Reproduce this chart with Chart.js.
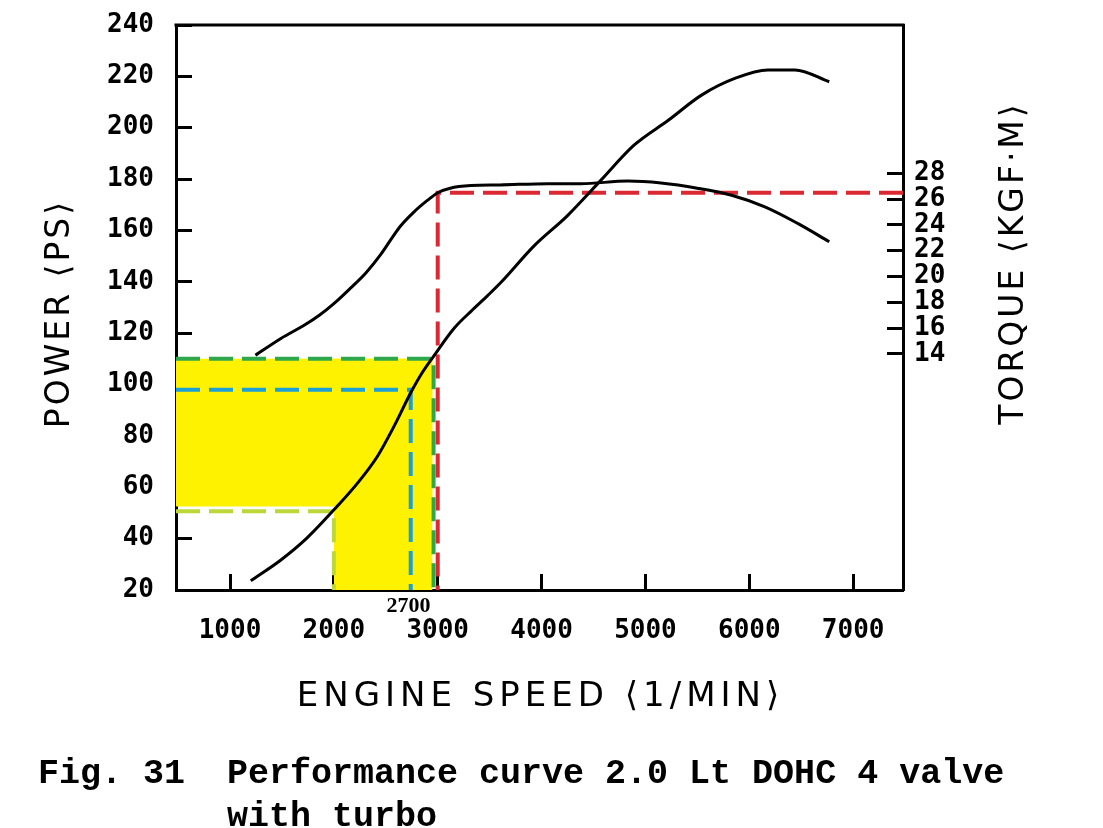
<!DOCTYPE html>
<html>
<head>
<meta charset="utf-8">
<title>Performance curve 2.0 Lt DOHC 4 valve with turbo</title>
<script src="https://cdn.jsdelivr.net/npm/chart.js@4.4.1/dist/chart.umd.min.js"></script>
<style>
  html, body { margin: 0; padding: 0; background: #fff; }
  #chart { display: block; }
</style>
</head>
<body>
<canvas id="chart" width="1103" height="828"></canvas>
<script>
// Axis ranges (left axis in PS, right axis in kgf·m)
const rpmMin = 480, rpmMax = 7480;
const psMin = 20, psMax = 240;
const torqueMin = -4.3, torqueMax = 39.5;

const rpmTicks = [1000, 2000, 3000, 4000, 5000, 6000, 7000];
const torqueTicks = [14, 16, 18, 20, 22, 24, 26, 28];

// Power curve
const powerRpm = [1200, 1490, 1740, 2030, 2230, 2420, 2580, 2740, 2850, 2960, 3160, 3320, 3480, 3610, 3930, 4250, 4570, 4890, 5220, 5540, 5860, 6180, 6440, 6770];
const powerPs = [23.6, 31.7, 40.2, 52.5, 61.7, 72.1, 83.8, 96.8, 104.6, 111, 122, 128.5, 134.6, 139.8, 154.1, 165.8, 179.5, 193.2, 202.9, 212.7, 219.2, 222.5, 222.5, 217.9];

// Torque curve
const torqueRpm = [1245, 1490, 1710, 1860, 2000, 2160, 2310, 2450, 2560, 2640, 2770, 2900, 3000, 3120, 3320, 3600, 4060, 4380, 4830, 5150, 5500, 5830, 6150, 6470, 6770];
const torqueKgfm = [13.9, 15.2, 16.2, 17.0, 17.9, 19.1, 20.3, 21.7, 23.0, 23.9, 25.0, 25.9, 26.5, 26.85, 27.05, 27.1, 27.2, 27.2, 27.4, 27.25, 26.85, 26.3, 25.4, 24.1, 22.7];

// Marked points
const maxTorqueRpm = 3000, maxTorque = 26.5;
const highRpm = 2960, highPs = 110;
const midRpm = 2740, midPs = 98;
const lowRpm = 2000, lowPs = 50.7;
const bandBottomPs = 52.5, bandEndRpm = 2950;
const midRpmLabel = 2700;

const pts = (xs, ys) => xs.map((x, i) => ({ x: x, y: ys[i] }));

function curve(data, axis) {
  return {
    data: data,
    yAxisID: axis,
    borderColor: "#000",
    borderWidth: 3,
    pointRadius: 0,
    cubicInterpolationMode: "monotone",
    fill: false,
  };
}

function guide(data, color, axis) {
  return {
    data: data,
    yAxisID: axis,
    borderColor: color,
    borderWidth: 4,
    borderDash: [24, 9],
    pointRadius: 0,
    tension: 0,
    fill: false,
  };
}

function band(data, fillTo) {
  return {
    data: data,
    yAxisID: "y",
    borderColor: "rgba(0,0,0,0)",
    borderWidth: 0,
    backgroundColor: "#fff200",
    pointRadius: 0,
    tension: 0,
    fill: { value: fillTo },
  };
}

// fixed box sizes so the plot area lands where the figure has it
function fixSize(w, h) {
  return (s) => {
    if (w) s.width = w;
    if (h) s.height = h;
    s.paddingTop = 0;
    s.paddingBottom = 0;
    s.paddingLeft = 0;
    s.paddingRight = 0;
  };
}

const tickFont = { family: '"DejaVu Sans Mono", monospace', size: 26, weight: "bold" };
const gridOpts = {
  drawOnChartArea: false,
  tickLength: -16,
  tickWidth: 3,
  tickColor: "#000",
};
const borderOpts = { color: "#000", width: 3 };

// Titles, caption and the 2700 mark
const textPlugin = {
  id: "figText",
  afterDraw(chart) {
    const { ctx, chartArea: a, scales } = chart;
    ctx.save();
    // top frame line
    ctx.strokeStyle = "#000";
    ctx.lineWidth = 3;
    ctx.beginPath();
    ctx.moveTo(a.left - 1.5, a.top);
    ctx.lineTo(a.right + 1.5, a.top);
    ctx.stroke();

    ctx.fillStyle = "#000";
    ctx.textAlign = "center";
    ctx.textBaseline = "middle";

    ctx.font = 'bold 22px "Liberation Serif", serif';
    ctx.fillText(String(midRpmLabel), scales.x.getPixelForValue(midRpmLabel) + 2, a.bottom + 16);

    ctx.font = '34px "DejaVu Sans", sans-serif';
    ctx.letterSpacing = "5px";
    ctx.fillText("ENGINE SPEED ⟨1/MIN⟩", (a.left + a.right) / 2 + 1, a.bottom + 107);

    ctx.font = '33px "DejaVu Sans", sans-serif';
    ctx.letterSpacing = "3px";
    ctx.save();
    ctx.translate(60, (a.top + a.bottom) / 2 + 6);
    ctx.rotate(-Math.PI / 2);
    ctx.fillText("POWER ⟨PS⟩", 0, 0);
    ctx.restore();

    ctx.save();
    ctx.translate(1014, 263);
    ctx.rotate(-Math.PI / 2);
    ctx.fillText("TORQUE ⟨KGF·M⟩", 0, 0);
    ctx.restore();

    ctx.letterSpacing = "0px";
    ctx.textAlign = "left";
    ctx.textBaseline = "alphabetic";
    ctx.font = 'bold 35px "Liberation Mono", monospace';
    ctx.fillText("Fig. 31  Performance curve 2.0 Lt DOHC 4 valve", 38, 783);
    ctx.fillText("         with turbo", 38, 826);
    ctx.restore();
  },
};

new Chart(document.getElementById("chart"), {
  type: "line",
  data: {
    datasets: [
      curve(pts(powerRpm, powerPs), "y"),
      curve(pts(torqueRpm, torqueKgfm), "y2"),
      guide([{ x: rpmMax, y: maxTorque }, { x: maxTorqueRpm, y: maxTorque }, { x: maxTorqueRpm, y: torqueMin }], "#dc2832", "y2"),
      guide([{ x: rpmMin, y: highPs }, { x: highRpm, y: highPs }, { x: highRpm, y: psMin }], "#2ea84b", "y"),
      guide([{ x: rpmMin, y: midPs }, { x: midRpm, y: midPs }, { x: midRpm, y: psMin }], "#1a9fd6", "y"),
      guide([{ x: rpmMin, y: lowPs }, { x: lowRpm, y: lowPs }, { x: lowRpm, y: psMin }], "#bcd838", "y"),
      band([{ x: rpmMin, y: highPs }, { x: bandEndRpm, y: highPs }], bandBottomPs),
      band([{ x: lowRpm, y: highPs }, { x: bandEndRpm, y: highPs }], psMin),
    ],
  },
  options: {
    responsive: false,
    animation: false,
    events: [],
    layout: { padding: { top: 25, left: 0, right: 0, bottom: 0 } },
    plugins: {
      legend: { display: false },
      tooltip: { enabled: false },
    },
    scales: {
      x: {
        type: "linear",
        position: "bottom",
        min: rpmMin,
        max: rpmMax,
        z: 1,
        afterBuildTicks: (s) => { s.ticks = rpmTicks.map((v) => ({ value: v })); },
        afterFit: fixSize(0, 238),
        ticks: {
          font: tickFont, color: "#000", padding: 42, maxRotation: 0, autoSkip: false,
          callback: (v) => String(v),
        },
        grid: gridOpts,
        border: borderOpts,
      },
      y: {
        type: "linear",
        position: "left",
        min: psMin,
        max: psMax,
        z: 1,
        afterFit: fixSize(176, 0),
        ticks: { stepSize: 20, font: tickFont, color: "#000", padding: 38, autoSkip: false },
        grid: gridOpts,
        border: borderOpts,
      },
      y2: {
        type: "linear",
        position: "right",
        min: torqueMin,
        max: torqueMax,
        z: 1,
        afterBuildTicks: (s) => { s.ticks = torqueTicks.map((v) => ({ value: v })); },
        afterFit: fixSize(200, 0),
        ticks: { font: tickFont, color: "#000", padding: 27, autoSkip: false },
        grid: gridOpts,
        border: borderOpts,
      },
    },
  },
  plugins: [textPlugin],
});
</script>
</body>
</html>
